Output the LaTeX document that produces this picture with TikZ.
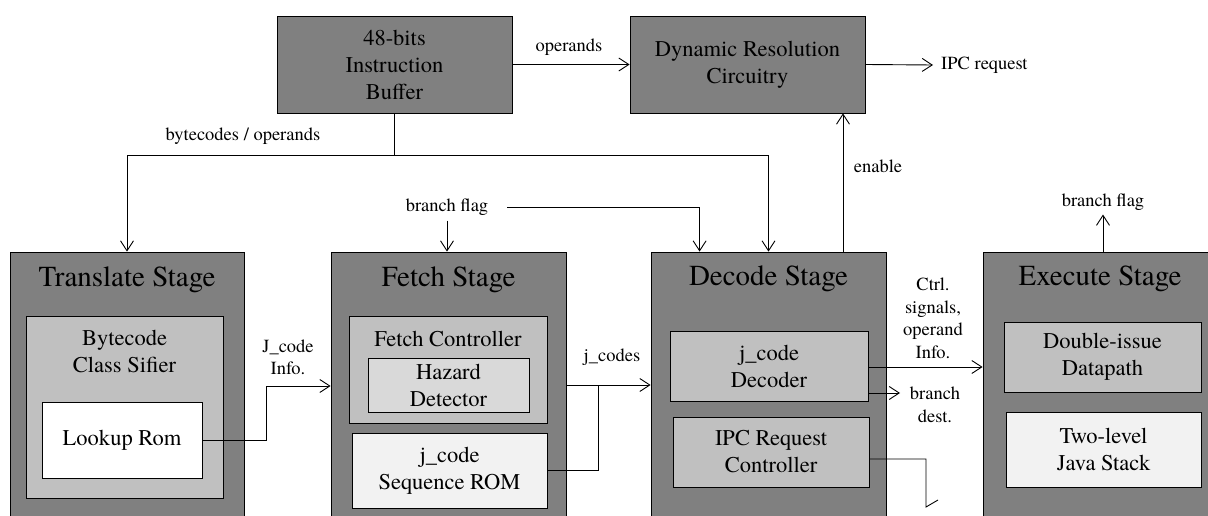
\documentclass[tikz,border=0pt]{standalone}
\usepackage{fontspec}
\setmainfont{TeX Gyre Termes}
\usetikzlibrary{arrows.meta,calc}
\definecolor{c128}{RGB}{128,128,128}
\definecolor{c192}{RGB}{192,192,192}
\definecolor{c217}{RGB}{217,217,217}
\definecolor{c242}{RGB}{242,242,242}
\tikzset{
  box/.style={draw=black, line width=0.8pt, inner sep=0pt, align=center,
    font=\fontsize{22.5}{27}\selectfont},
  stagebox/.style={box, fill=c128},
  midbox/.style={box, fill=c192},
  hazbox/.style={box, fill=c217},
  lightbox/.style={box, fill=c242},
  whitebox/.style={box, fill=white},
  titletext/.style={inner sep=0pt, font=\fontsize{29}{34}\selectfont},
  bodytext/.style={inner sep=0pt, align=center, font=\fontsize{22.5}{27}\selectfont},
  lbl/.style={inner sep=0pt, align=center, font=\fontsize{18.5}{22.5}\selectfont},
  arr/.style={-{Straight Barb[length=10pt,width=13pt,line width=0.9pt]}, line width=0.9pt},
  wire/.style={line width=0.9pt}
}
\begin{document}
\begin{tikzpicture}[x=1pt,y=-1pt]
\useasboundingbox (0,0) rectangle (1208,516);
\fill[white] (0,0) rectangle (1208,516);
\clip (0,0) rectangle (1208,516);

% top boxes
\node[stagebox, minimum width=235, minimum height=97] (ib) at (394.5,64.5) {48-bits\\Instruction\\Buffer};
\node[stagebox, minimum width=235, minimum height=97] (drc) at (747.5,64.5) {Dynamic Resolution\\Circuitry};

% stages
\node[stagebox, minimum width=234, minimum height=278] (tr) at (127,391) {};
\node[stagebox, minimum width=235, minimum height=278] (fe) at (448.5,391) {};
\node[stagebox, minimum width=235, minimum height=278] (dec) at (768.5,391) {};
\node[stagebox, minimum width=240, minimum height=278] (ex) at (1103,391) {};

\node[titletext] (trt) at (127,280) {Translate Stage};
\node[titletext] (fet) at (448.5,280) {Fetch Stage};
\node[titletext] (dect) at (768.5,279) {Decode Stage};
\node[titletext] (ext) at (1100,279) {Execute Stage};

% translate inner
\node[midbox, minimum width=197, minimum height=182] (bcs) at (124.5,407) {};
\node[bodytext] (bcst) at (124.5,351.5) {Bytecode\\Class Sifier};
\node[whitebox, minimum width=160, minimum height=76] (lr) at (122,440) {Lookup Rom};

% fetch inner
\node[midbox, minimum width=198, minimum height=107] (fc) at (448,369.5) {};
\node[bodytext] (fct) at (448,339) {Fetch Controller};
\node[hazbox, minimum width=161, minimum height=54] (hd) at (448.5,385) {Hazard\\Detector};
\node[lightbox, minimum width=195, minimum height=75] (sr) at (449.5,470.5) {j\_code\\Sequence ROM};

% decode inner
\node[midbox, minimum width=198, minimum height=70] (jd) at (769,366) {j\_code\\Decoder};
\node[midbox, minimum width=196, minimum height=70] (ipc) at (771,452) {IPC Request\\Controller};

% execute inner
\node[midbox, minimum width=197, minimum height=70] (dp) at (1102.5,357) {Double-issue\\Datapath};
\node[lightbox, minimum width=195, minimum height=75] (js) at (1103.5,449.5) {Two-level\\Java Stack};

% labels
\node[lbl] (opl) at (569,47) {operands};
\node[lbl, anchor=west] (ipcl) at (941,65) {IPC request};
\node[lbl] (bol) at (243,136) {bytecodes / operands};
\node[lbl] (bf1) at (447,207) {branch flag};
\node[lbl] (enl) at (878,166) {enable};
\node[lbl] (bf2) at (1103,202) {branch flag};
\node[lbl] (jil) at (288,357.5) {J\_code\\Info.};
\node[lbl] (jcl) at (612,357) {j\_codes};
\node[lbl] (ctl) at (933,318.5) {Ctrl.\\signals,\\operand\\Info.};
\node[lbl] (bdl) at (935,405) {branch\\dest.};

% coordinates
\coordinate (bus) at (394.5,155);
\coordinate (bfs) at (507,207);
\coordinate (jm) at (598,385);
\coordinate (ipcout) at (933,65);
\coordinate (bdout) at (900,393);
\coordinate (ipcend) at (926,507);

% connectors
\draw[arr] (ib.east) -- (drc.west);
\draw[arr] (drc.east) -- (ipcout);
\draw[wire] (ib.south) -- (bus);
\draw[arr] (bus) -| (tr.north);
\draw[arr] (bus) -| (dec.north);
\draw[arr] ([yshift=-5pt]bf1.south) -- (bf1.south |- fe.north);
\draw[arr] (bfs) -| ([xshift=49pt]dec.north west);
\draw[arr] ([xshift=74.5pt]dec.north) -- ([xshift=74.5pt]dec.north |- drc.south);
\draw[arr] (ex.north) -- ([yshift=-4pt]bf2.south);
\draw[arr] (lr.east) -- ++(64,0) |- ([yshift=5pt]fe.west);
\draw[arr] ([yshift=6pt]fe.east) -- ([yshift=6pt]dec.west);
\draw[wire] (sr.east) -| (jm);
\draw[arr] ([yshift=-1pt]jd.east) -- ([yshift=-1pt]jd.east -| ex.west);
\draw[arr] ([yshift=-27pt]jd.east) -- (bdout);
\draw[wire] ([yshift=-7pt]ipc.east) -| (ipcend) -- ++(12,-7);
\end{tikzpicture}
\end{document}
